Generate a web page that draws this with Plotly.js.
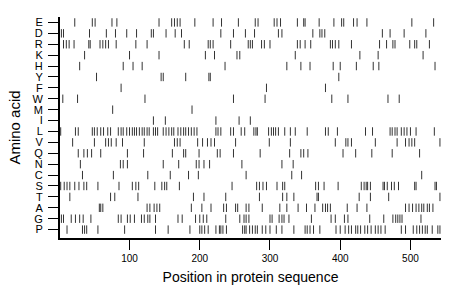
<!DOCTYPE html>
<html>
<head>
<meta charset="utf-8">
<script src="https://cdn.plot.ly/plotly-3.0.1.min.js"></script>
<style>html,body{margin:0;padding:0;background:#fff;}#chart{width:460px;height:299px;}</style>
</head>
<body>
<div id="chart"></div>
<script>
// Amino acid categories, bottom to top
const categories = ["P","G","A","T","S","C","N","Q","V","L","I","M","W","F","Y","H","K","R","D","E"];
const xTicks = [100, 200, 300, 400, 500];

// Positions of each residue in the protein sequence
const posE = [22, 47, 51, 75, 82, 142, 160, 164, 168, 172, 193, 219, 231, 255, 279, 283, 306, 310, 315, 339, 348, 350, 370, 391, 402, 405, 419, 424, 438, 502, 533];
const posD = [3, 6, 43, 67, 80, 96, 110, 131, 134, 152, 165, 174, 230, 248, 265, 278, 312, 317, 361, 371, 374, 378, 460, 471, 491, 522];
const posR = [6, 10, 14, 21, 42, 44, 58, 62, 66, 70, 81, 109, 125, 178, 185, 212, 215, 219, 244, 269, 272, 275, 288, 292, 300, 339, 343, 350, 358, 386, 389, 393, 398, 416, 456, 466, 475, 478, 499, 506, 509, 527];
const posK = [36, 100, 142, 208, 221, 253, 257, 336, 428, 454, 518];
const posH = [29, 91, 105, 118, 236, 324, 344, 357, 390, 400, 423, 447, 455, 535];
const posY = [53, 145, 148, 180, 213, 215, 398];
const posF = [88, 295, 379];
const posW = [5, 26, 122, 248, 293, 388, 411, 468, 484];
const posM = [76, 189];
const posI = [134, 151, 223, 256, 272];
const posL = [2, 23, 27, 47, 50, 54, 59, 63, 69, 73, 84, 88, 91, 96, 100, 104, 107, 110, 114, 118, 121, 125, 128, 134, 137, 140, 148, 152, 156, 160, 163, 169, 173, 177, 180, 184, 188, 192, 196, 223, 226, 230, 244, 248, 259, 264, 277, 280, 282, 298, 302, 305, 308, 312, 321, 329, 336, 353, 379, 383, 396, 436, 446, 471, 474, 478, 481, 487, 491, 495, 500, 508, 534];
const posV = [19, 50, 66, 70, 74, 81, 90, 121, 164, 168, 172, 197, 204, 211, 216, 221, 251, 299, 329, 393, 408, 411, 416, 450, 481, 493, 498, 502, 506, 542];
const posQ = [27, 35, 40, 46, 59, 97, 120, 161, 177, 180, 199, 225, 229, 248, 286, 328, 344, 348, 354, 404, 422, 445, 474, 513];
const posN = [30, 87, 91, 97, 148, 170, 195, 199, 206, 214, 260, 317, 333];
const posC = [33, 77, 126, 158, 184, 198, 266, 331, 345, 516];
const posS = [2, 7, 11, 15, 22, 28, 35, 39, 55, 85, 104, 109, 113, 136, 146, 150, 153, 171, 246, 281, 285, 290, 295, 310, 318, 321, 365, 369, 377, 397, 430, 434, 437, 439, 443, 461, 463, 467, 473, 477, 483, 506, 508, 535, 537];
const posT = [15, 73, 79, 112, 191, 206, 237, 285, 318, 324, 334, 367, 369, 427, 443, 469, 542];
const posA = [57, 59, 62, 125, 129, 135, 139, 143, 188, 203, 216, 234, 238, 251, 254, 266, 270, 289, 314, 324, 340, 352, 364, 375, 379, 382, 386, 410, 424, 438, 493, 498, 503, 508, 512, 516, 519, 524, 527, 532];
const posG = [3, 6, 17, 23, 29, 34, 45, 84, 88, 97, 101, 107, 117, 121, 126, 129, 137, 169, 175, 194, 200, 205, 210, 237, 257, 263, 266, 270, 300, 303, 313, 317, 320, 327, 359, 387, 393, 406, 411, 442, 462, 475, 479, 482, 485, 488, 515];
const posP = [11, 33, 36, 39, 55, 93, 137, 155, 186, 200, 203, 207, 212, 223, 228, 230, 233, 238, 261, 264, 266, 271, 275, 279, 282, 289, 294, 300, 309, 317, 334, 350, 353, 357, 362, 371, 394, 400, 407, 412, 416, 422, 425, 429, 435, 439, 444, 450, 454, 458, 464, 487, 493, 504, 509, 513, 517, 521, 524, 531, 539, 542];

const series = [["E",posE],["D",posD],["R",posR],["K",posK],["H",posH],["Y",posY],["F",posF],["W",posW],["M",posM],["I",posI],["L",posL],["V",posV],["Q",posQ],["N",posN],["C",posC],["S",posS],["T",posT],["A",posA],["G",posG],["P",posP]];

const traces = series.map(([aa, xs]) => ({
  type: "scatter",
  mode: "markers",
  x: xs,
  y: xs.map(() => aa),
  marker: {symbol: "line-ns-open", size: 6, color: "#333", line: {width: 1, color: "#333"}},
  hoverinfo: "x+y",
  showlegend: false,
  cliponaxis: false
}));

const layout = {
  width: 460, height: 299,
  margin: {l: 60, r: 19, t: 17, b: 61},
  paper_bgcolor: "#fff", plot_bgcolor: "#fff",
  font: {family: "Liberation Sans, Arial, sans-serif", color: "#000"},
  showlegend: false,
  xaxis: {
    range: [1, 543.5],
    tickmode: "array",
    tickvals: xTicks,
    ticktext: xTicks.map(String),
    ticks: "outside", ticklen: 10, tickwidth: 1, tickcolor: "#000",
    showline: true, linecolor: "#000", linewidth: 2,
    showgrid: false, zeroline: false,
    tickfont: {size: 10, color: "#000"},
    title: {text: "Position in protein sequence", font: {size: 14, color: "#000"}, standoff: 9}
  },
  yaxis: {
    type: "category",
    categoryorder: "array",
    categoryarray: categories,
    tickmode: "array",
    tickvals: categories,
    ticktext: categories,
    range: [-0.77, 19.5],
    ticks: "outside", ticklen: 10, tickwidth: 1, tickcolor: "#000",
    ticklabelstandoff: 3,
    showline: true, linecolor: "#000", linewidth: 2,
    showgrid: false, zeroline: false,
    tickfont: {size: 11, color: "#000"},
    title: {text: "Amino acid", font: {size: 15, color: "#000"}, standoff: 8}
  }
};

Plotly.newPlot("chart", traces, layout, {staticPlot: true, displayModeBar: false});
</script>
</body>
</html>
